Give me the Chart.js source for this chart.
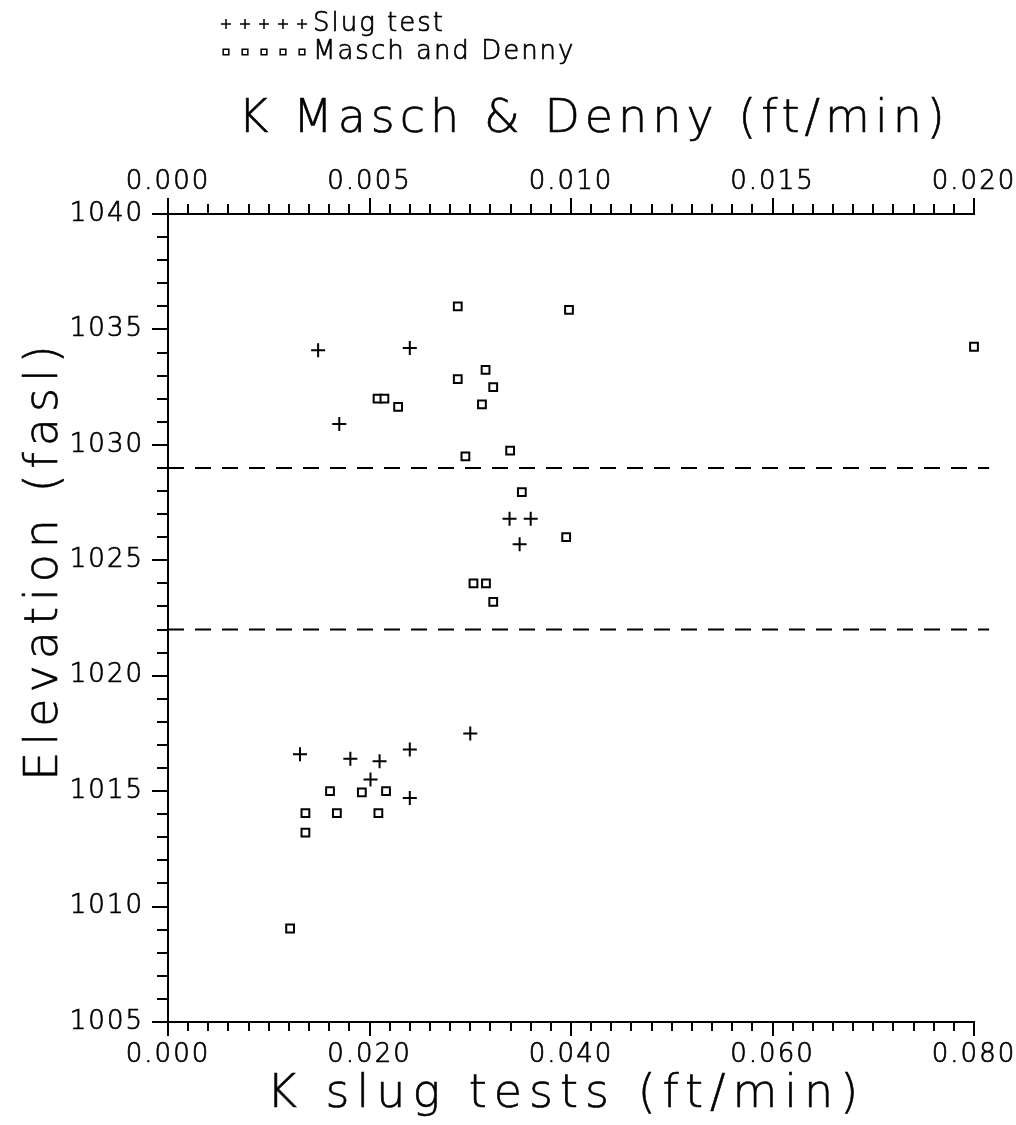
<!DOCTYPE html>
<html>
<head>
<meta charset="utf-8">
<title>K vs elevation</title>
<script src="https://cdn.jsdelivr.net/npm/chart.js@4.4.0/dist/chart.umd.min.js"></script>
<style>
    html, body { margin: 0; padding: 0; background: #fff; }
    #wrap { width: 1016px; height: 1125px; }
</style>
</head>
<body>
<div id="wrap"><canvas id="kChart"></canvas></div>
<script>
// slug tests: K (ft/min, bottom axis) and elevation (fasl)
var slugK =    [0.0149, 0.0170, 0.0240, 0.0339, 0.0360, 0.0349, 0.0300, 0.0131, 0.0240, 0.0181, 0.0210, 0.0201, 0.0240];
var slugElev = [1034.1, 1030.9, 1034.2, 1026.8, 1026.8, 1025.7, 1017.5, 1016.6, 1016.8, 1016.4, 1016.3, 1015.5, 1014.7];

// Masch & Denny: K (ft/min, top axis) and elevation (fasl)
var mdK =    [0.00719, 0.00995, 0.00788, 0.00719, 0.00807, 0.00520, 0.00537, 0.00571, 0.00779, 0.00738, 0.00849, 0.00878, 0.00988,
              0.00758, 0.00789, 0.00807, 0.02000, 0.00402, 0.00481, 0.00541, 0.00341, 0.00419, 0.00522, 0.00341, 0.00303];
var mdElev = [1036.0, 1035.85, 1033.25, 1032.85, 1032.5, 1032.0, 1032.0, 1031.65, 1031.75, 1029.5, 1029.75, 1027.95, 1026.0,
              1024.0, 1024.0, 1023.2, 1034.25, 1015.0, 1014.95, 1015.0, 1014.05, 1014.05, 1014.05, 1013.2, 1009.05];

// dashed boundaries (fasl), drawn from K = 0 to boundaryEnd
var boundaryElev = [1029, 1022];
var boundaryEnd = 0.0815;

// axis ranges and tick steps: [min, max, major, minor]
var slugAxis = [0, 0.08, 0.02, 0.002];
var mdAxis = [0, 0.02, 0.005, 0.0005];
var elevAxis = [1005, 1040, 5, 1];

var legendLabels = ['Slug test', 'Masch and Denny'];
var topTitle = 'K Masch & Denny (ft/min)';
var bottomTitle = 'K slug tests (ft/min)';
var leftTitle = 'Elevation (fasl)';

var FONT = "'DejaVu Sans', sans-serif";
Chart.defaults.font.family = FONT;
Chart.defaults.font.weight = '200';
Chart.defaults.color = '#000';

function toPoints(xs, ys) {
    return xs.map(function (x, i) { return {x: x, y: ys[i]}; });
}

var boundarySets = boundaryElev.map(function (e) {
    return {
        label: 'boundary ' + e,
        data: [{x: slugAxis[0], y: e}, {x: boundaryEnd, y: e}],
        showLine: true,
        borderColor: '#000',
        borderWidth: 2,
        borderDash: [16, 11],
        pointRadius: 0,
        fill: false,
        clip: false
    };
});

var crossStyle = {pointStyle: 'cross', radius: 7, borderWidth: 2};
var rectStyle = {pointStyle: 'rect', radius: 5.5, borderWidth: 2};

// major axis: labels + long ticks
function majorAxis(pos, range, tickLen, afterFit, pad, fmt) {
    return {
        type: 'linear',
        position: pos,
        min: range[0],
        max: range[1],
        ticks: {
            stepSize: range[2],
            autoSkip: false,
            padding: pad,
            color: '#000',
            textStrokeColor: '#000',
            textStrokeWidth: 0.7,
            font: {size: 26},
            callback: fmt
        },
        grid: {drawOnChartArea: false, tickLength: tickLen, color: '#000', lineWidth: 2},
        border: {display: true, color: '#000', width: 2},
        afterFit: afterFit
    };
}

// minor axis: short ticks only, pinned on the main axis line
function minorAxis(axis, pos, range, tickLen) {
    return {
        type: 'linear',
        axis: axis,
        position: pos,
        min: range[0],
        max: range[1],
        ticks: {display: false, stepSize: range[3], autoSkip: false},
        grid: {drawOnChartArea: false, tickLength: tickLen, color: '#000', lineWidth: 2},
        border: {display: false},
        afterFit: function (s) { if (axis === 'x') s.height = 0; else s.width = 0; }
    };
}

function strokedText(ctx, txt, x, y) {
    ctx.strokeText(txt, x, y);
    ctx.fillText(txt, x, y);
}

var textPlugin = {
    id: 'plotText',
    beforeDraw: function (chart) {
        chart.ctx.letterSpacing = '2px';
    },
    afterDraw: function (chart) {
        var ctx = chart.ctx;
        ctx.save();
        ctx.strokeStyle = '#000';

        // legend: five markers then the label
        var styles = [crossStyle, rectStyle];
        var rowsY = [24, 52];
        legendLabels.forEach(function (txt, r) {
            for (var i = 0; i < 5; i++) {
                ctx.fillStyle = '#fff';
                ctx.lineWidth = 1.5;
                Chart.helpers.drawPoint(ctx, {
                    pointStyle: styles[r].pointStyle,
                    radius: r === 0 ? 5 : 4,
                    rotation: 0,
                    borderWidth: 1.5
                }, 226 + i * 19, rowsY[r]);
            }
            ctx.fillStyle = '#000';
            ctx.lineWidth = 0.7;
            ctx.font = "200 26px " + FONT;
            ctx.textAlign = 'left';
            ctx.textBaseline = 'middle';
            strokedText(ctx, txt, 313, rowsY[r]);
        });

        // axis titles
        ctx.font = "200 46px " + FONT;
        ctx.lineWidth = 0.6;
        ctx.textAlign = 'center';
        ctx.textBaseline = 'alphabetic';
        ctx.letterSpacing = '5px';
        strokedText(ctx, topTitle, 594, 132);
        ctx.letterSpacing = '7px';
        strokedText(ctx, bottomTitle, 566, 1107);

        ctx.letterSpacing = '6px';
        ctx.translate(57, 560);
        ctx.rotate(-Math.PI / 2);
        strokedText(ctx, leftTitle, 0, 0);
        ctx.restore();
    }
};

var ctx = document.getElementById('kChart').getContext('2d');
var kChart = new Chart(ctx, {
    type: 'scatter',
    data: {
        datasets: [
            {
                label: legendLabels[0],
                data: toPoints(slugK, slugElev),
                xAxisID: 'x',
                pointStyle: crossStyle.pointStyle,
                pointRadius: crossStyle.radius,
                pointBorderWidth: crossStyle.borderWidth,
                borderColor: '#000',
                backgroundColor: '#000',
                clip: false
            },
            {
                label: legendLabels[1],
                data: toPoints(mdK, mdElev),
                xAxisID: 'x2',
                pointStyle: rectStyle.pointStyle,
                pointRadius: rectStyle.radius,
                pointBorderWidth: rectStyle.borderWidth,
                borderColor: '#000',
                backgroundColor: '#fff',
                clip: false
            }
        ].concat(boundarySets)
    },
    options: {
        responsive: true,
        maintainAspectRatio: false,
        animation: false,
        events: [],
        layout: {padding: {left: 0, right: 42, top: 0, bottom: 0}},
        plugins: {legend: {display: false}, tooltip: {enabled: false}},
        scales: {
            x: majorAxis('bottom', slugAxis, 14, function (s) { s.height = 103; }, 4,
                function (v) { return v.toFixed(3); }),
            x2: majorAxis('top', mdAxis, 16, function (s) { s.height = 214; }, 0,
                function (v) { return v.toFixed(3); }),
            y: majorAxis('left', elevAxis, 16, function (s) { s.width = 168; }, 8,
                function (v) { return String(v); }),
            xMinor: minorAxis('x', {y: elevAxis[0]}, slugAxis, 9),
            x2Minor: minorAxis('x', {y: elevAxis[1]}, mdAxis, -10),
            yMinor: minorAxis('y', {x: slugAxis[0]}, elevAxis, 11)
        }
    },
    plugins: [textPlugin]
});
</script>
</body>
</html>
